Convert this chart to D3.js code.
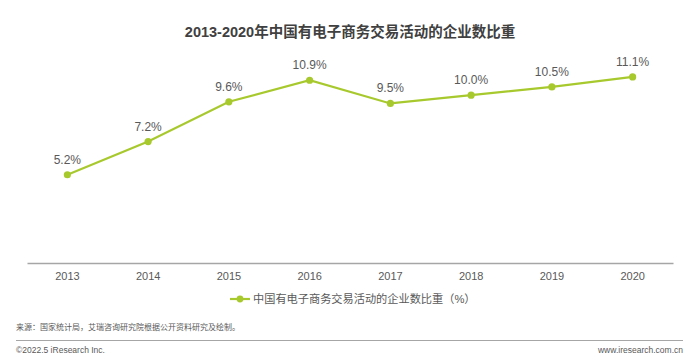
<!DOCTYPE html>
<html>
<head>
<meta charset="utf-8">
<script src="https://cdn.jsdelivr.net/npm/d3@7"></script>
<style>
  body { margin: 0; background: #fff; }
  svg { display: block; }
</style>
</head>
<body>
<svg width="697" height="361"></svg>
<script>
years = ["2013", "2014", "2015", "2016", "2017", "2018", "2019", "2020"];
shares = [5.2, 7.2, 9.6, 10.9, 9.5, 10.0, 10.5, 11.1];
title = "2013-2020年中国有电子商务交易活动的企业数比重";
seriesName = "中国有电子商务交易活动的企业数比重（%）";
sourceText = "来源：国家统计局，艾瑞咨询研究院根据公开资料研究及绘制。";

width = 697;
height = 361;
green = "#a8c92e";
latin = "'Liberation Sans', Arial, sans-serif";
cjk = "'Liberation Sans', 'Noto Sans CJK SC', sans-serif";

data = years.map((y, i) => ({year: y, value: shares[i]}));

x = d3.scaleBand().domain(years).range([27, 673]);
y = d3.scaleLinear().domain([0, 12]).range([261, 62]);

function draw() {
  const svg = d3.select("svg");

  svg.append("text")
      .attr("x", 350).attr("y", 37)
      .attr("text-anchor", "middle")
      .style("font", `bold 14.5px ${cjk}`)
      .attr("fill", "#404040")
      .text(title);

  // x axis
  const ax = svg.append("g")
      .attr("transform", `translate(0,263)`)
      .call(d3.axisBottom(x).tickSize(0).tickPadding(9));
  ax.select(".domain").attr("stroke", "#a6a6a6").attr("stroke-width", 1.3);
  ax.selectAll("text")
      .style("font", `11px ${latin}`)
      .attr("fill", "#595959");

  const cx = d => x(d.year) + x.bandwidth() / 2;

  const line = d3.line().x(cx).y(d => y(d.value));
  svg.append("path")
      .datum(data)
      .attr("d", line)
      .attr("fill", "none")
      .attr("stroke", green)
      .attr("stroke-width", 2.2);

  svg.append("g")
    .selectAll("circle")
    .data(data)
    .join("circle")
      .attr("cx", cx)
      .attr("cy", d => y(d.value))
      .attr("r", 3.6)
      .attr("fill", green);

  svg.append("g")
    .selectAll("text")
    .data(data)
    .join("text")
      .attr("x", cx)
      .attr("y", d => y(d.value) - 11)
      .attr("text-anchor", "middle")
      .style("font", `12px ${latin}`)
      .attr("fill", "#595959")
      .text(d => d.value.toFixed(1) + "%");

  // legend
  const lg = svg.append("g").attr("transform", "translate(230,299)");
  lg.append("line").attr("x1", 0).attr("x2", 20)
      .attr("stroke", green).attr("stroke-width", 2.2);
  lg.append("circle").attr("cx", 10).attr("r", 3.4).attr("fill", green);
  lg.append("text")
      .attr("x", 23).attr("dy", "0.35em")
      .style("font", `11.2px ${cjk}`)
      .attr("fill", "#595959")
      .text(seriesName);

  // footer
  svg.append("text")
      .attr("x", 16).attr("y", 330)
      .style("font", `8px ${cjk}`)
      .attr("fill", "#595959")
      .text(sourceText);

  svg.append("line")
      .attr("x1", 16).attr("x2", 683)
      .attr("y1", 340.5).attr("y2", 340.5)
      .attr("stroke", "#a6a6a6").attr("stroke-width", 1);

  svg.append("text")
      .attr("x", 16).attr("y", 353)
      .style("font", `8.5px ${cjk}`)
      .attr("fill", "#595959")
      .text("©2022.5 iResearch Inc.");

  svg.append("text")
      .attr("x", 683).attr("y", 353)
      .attr("text-anchor", "end")
      .style("font", `8.5px ${cjk}`)
      .attr("fill", "#595959")
      .text("www.iresearch.com.cn");
}
draw();
</script>
</body>
</html>
